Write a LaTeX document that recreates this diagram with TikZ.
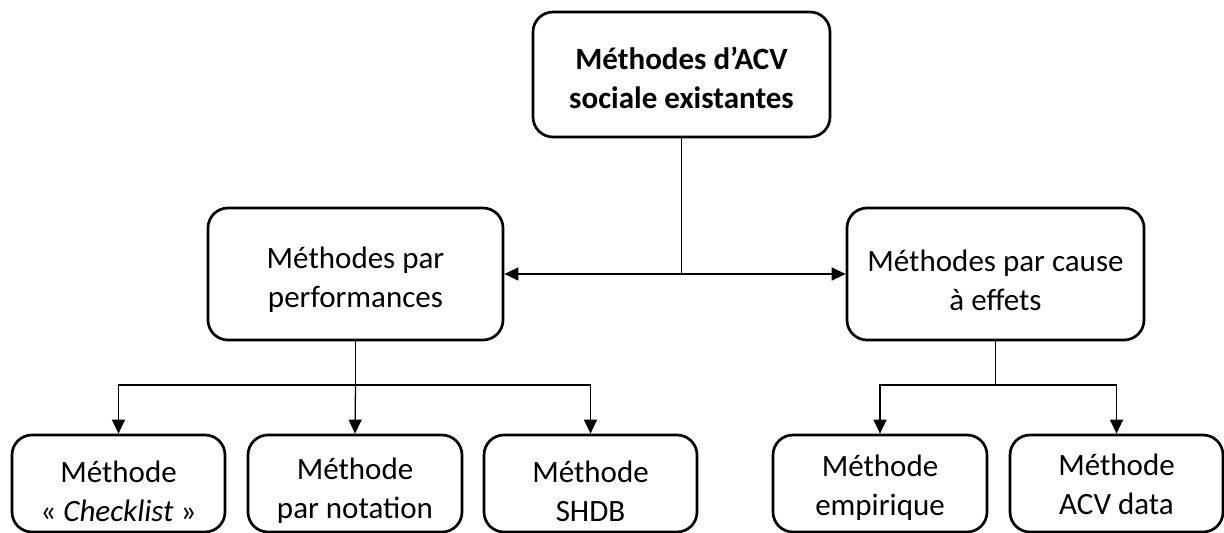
\documentclass[tikz,border=0pt]{standalone}
\usepackage{fontspec}
\setmainfont{Carlito}
\usetikzlibrary{arrows.meta}
\begin{document}
\begin{tikzpicture}[x=0.5pt,y=-0.5pt,
  box/.style={draw=black,line width=1.35pt,rounded corners=10pt,inner sep=0pt},
  lbl/.style={align=center,inner sep=0pt,font=\fontsize{15.5}{19.5}\selectfont},
  conn/.style={draw=black,line width=0.65pt},
  tip/.style={-{Triangle[length=7pt,width=6.5pt]}}]
\useasboundingbox (0,0) rectangle (1224,533);
\begin{scope}
\clip (0,0) rectangle (1224,533);
% boxes
\node[box,minimum width=148.5pt,minimum height=62.5pt] (top) at (681.5,74.5) {};
\node[box,minimum width=147.5pt,minimum height=66pt] (A) at (355.5,274) {};
\node[box,minimum width=148.5pt,minimum height=66pt] (B) at (995.5,274) {};
\node[box,minimum width=106.5pt,minimum height=48.5pt] (b1) at (118.5,483.5) {};
\node[box,minimum width=107pt,minimum height=48.5pt] (b2) at (355,483.5) {};
\node[box,minimum width=106.5pt,minimum height=48.5pt] (b3) at (590.5,483.5) {};
\node[box,minimum width=107pt,minimum height=48.5pt] (b4) at (880,483.5) {};
\node[box,minimum width=106.5pt,minimum height=48.5pt] (b5) at (1116.5,483.5) {};
% texts
\node[lbl,font=\fontsize{15.5}{19.5}\selectfont\bfseries] (tTop) at (681.5,78) {Méthodes d’ACV\\sociale existantes};
\node[lbl] (tA) at (355.5,280) {Méthodes par\\performances};
\node[lbl] (tB) at (995.5,280) {Méthodes par cause\\à effets};
\node[lbl] (t1) at (118.5,491) {Méthode\\«~\textit{Checklist}~»};
\node[lbl] (t2) at (355,491) {Méthode\\par notation};
\node[lbl] (t3) at (590.5,491) {Méthode\\SHDB};
\node[lbl] (t4) at (880,488) {Méthode\\empirique};
\node[lbl] (t5) at (1116.5,484) {Méthode\\ACV data};
\end{scope}
% junctions
\coordinate (J) at (top.south |- A.east);
\coordinate (L) at (355.5,385);
\coordinate (R) at (995.5,385);
% connectors
\draw[conn] (top.south) -- (J);
\draw[conn,tip] (J) -- (A.east);
\draw[conn,tip] (J) -- (B.west);
\draw[conn] (A.south) -- (L);
\draw[conn,tip] (L) -| (b1.north);
\draw[conn,tip] (L) -- (b2.north);
\draw[conn,tip] (L) -| (b3.north);
\draw[conn] (B.south) -- (R);
\draw[conn,tip] (R) -| (b4.north);
\draw[conn,tip] (R) -| (b5.north);
\end{tikzpicture}
\end{document}
